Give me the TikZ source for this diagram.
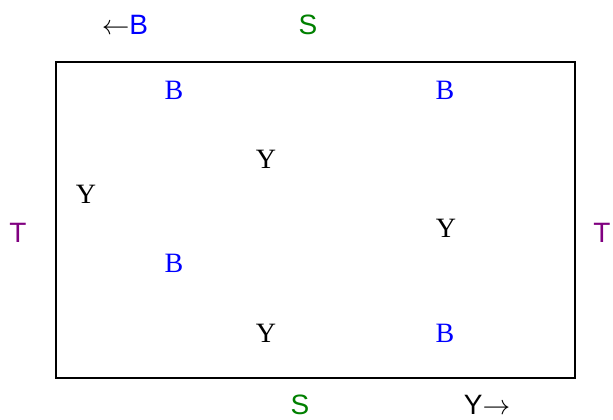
\documentclass[tikz,border=0pt]{standalone}
\usepackage{fontspec}
\setmainfont{Liberation Serif}
\setsansfont{Liberation Sans}
\usepackage{tikz}
\usetikzlibrary{positioning}
\definecolor{LabelBlue}{HTML}{0000FF}
\definecolor{LabelGreen}{HTML}{008000}
\definecolor{LabelPurple}{HTML}{800080}
\tikzset{
  outer/.style={font=\sffamily\fontsize{21}{24}\selectfont, inner sep=0pt},
  inside/.style={font=\rmfamily\fontsize{21}{24}\selectfont, inner sep=0pt},
}

\begin{document}
\begin{tikzpicture}[x=0.75pt, y=-0.75pt]
  \useasboundingbox (0,0) rectangle (613,419);
  \draw[line width=1.3pt] (56,62) rectangle (575,378);            % frame
  % labels round the frame
  \node[outer] (bleft) at (125,25) {$\leftarrow$\textcolor{LabelBlue}{B}};
  \node[outer, LabelGreen] (stop) at (308,25) {S};
  \node[outer, LabelPurple] (tleft) at (18,233) {T};
  \node[outer, LabelPurple] (tright) at (602,233) {T};
  \node[outer, LabelGreen] (sbot) at (300,405) {S};
  \node[outer] (yright) at (487,405) {Y$\rightarrow$};
  % labels inside
  \node[inside, LabelBlue] (b1) at (174,90) {B};
  \node[inside, LabelBlue] (b2) at (445,90) {B};
  \node[inside, LabelBlue] (b3) at (174,263) {B};
  \node[inside, LabelBlue] (b4) at (445,333) {B};
  \node[inside] (y1) at (86,194) {Y};
  \node[inside] (y2) at (266,159) {Y};
  \node[inside] (y3) at (446,228) {Y};
  \node[inside] (y4) at (266,333) {Y};
\end{tikzpicture}
\end{document}
